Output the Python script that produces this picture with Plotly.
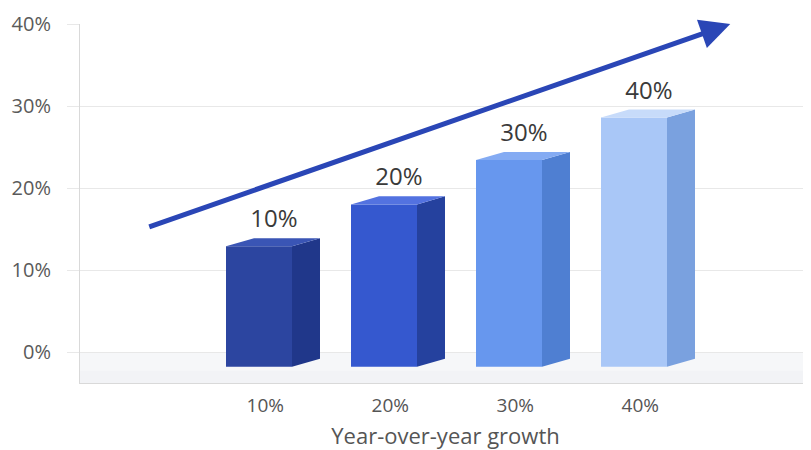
import plotly.graph_objects as go

# ---- data ----
categories = ["10%", "20%", "30%", "40%"]
bar_values = [12.9, 18.0, 23.4, 28.6]      # bar heights (in % units, as drawn)
label_texts = ["10%", "20%", "30%", "40%"]
y_ticks = [0, 10, 20, 30, 40]
arrow_start = [-0.89, 15.2]
arrow_end = [3.77, 40.0]

front_colors = ["#2c45a0", "#3558cf", "#6797ee", "#a9c7f7"]
side_colors = ["#20378a", "#25419e", "#4f7fd2", "#7aa1df"]
top_colors = ["#3a55b5", "#5372e0", "#84abf3", "#c7dbfa"]

BASE = -1.8
BAR_W = 0.528
DX = 0.224   # depth offset in x units
DY = 0.98    # depth offset in y units

xs = list(range(len(categories)))

fig = go.Figure()

# front faces
fig.add_trace(go.Bar(
    x=xs, y=[v - BASE for v in bar_values], base=BASE, width=BAR_W,
    marker=dict(color=front_colors, line=dict(width=0)),
    hoverinfo="skip", showlegend=False,
))

# side and top faces
for i, v in enumerate(bar_values):
    x0 = i - BAR_W / 2
    x1 = i + BAR_W / 2
    fig.add_trace(go.Scatter(
        x=[x1, x1 + DX, x1 + DX, x1, x1],
        y=[BASE, BASE + DY, v + DY, v, BASE],
        fill="toself", fillcolor=side_colors[i], mode="lines",
        line=dict(width=0, color=side_colors[i]),
        hoverinfo="skip", showlegend=False,
    ))
    fig.add_trace(go.Scatter(
        x=[x0, x0 + DX, x1 + DX, x1, x0],
        y=[v, v + DY, v + DY, v, v],
        fill="toself", fillcolor=top_colors[i], mode="lines",
        line=dict(width=0, color=top_colors[i]),
        hoverinfo="skip", showlegend=False,
    ))

# value labels
fig.add_trace(go.Scatter(
    x=[i + 0.12 for i in xs], y=[v + DY + 0.6 for v in bar_values],
    mode="text", text=label_texts, textposition="top center",
    textfont=dict(size=24, color="#3a3a3a", family="Open Sans"),
    hoverinfo="skip", showlegend=False,
))

# floor band
fig.add_shape(type="rect", xref="paper", yref="y", x0=0, x1=1, y0=-3.78, y1=0,
              fillcolor="#f6f7f9", line=dict(width=0), layer="below")
fig.add_shape(type="rect", xref="paper", yref="y", x0=0, x1=1, y0=-3.78, y1=-2.3,
              fillcolor="#f2f3f6", line=dict(width=0), layer="below")

# arrow
fig.add_annotation(
    x=arrow_end[0], y=arrow_end[1], ax=arrow_start[0], ay=arrow_start[1],
    xref="x", yref="y", axref="x", ayref="y", text="",
    showarrow=True, arrowhead=2, arrowwidth=5, arrowsize=1.2,
    arrowcolor="#2a46b6", standoff=0,
)

# page body has an 8px margin: size the figure so the plot lands where the reference's does
fig.update_layout(
    width=803, height=442,
    margin=dict(l=72, r=0, t=16, b=67),
    paper_bgcolor="white", plot_bgcolor="white",
    font=dict(family="Open Sans", color="#555555"),
    xaxis=dict(
        range=[-1.432, 4.416], tickmode="array",
        tickvals=[i + 0.05 for i in xs], ticktext=categories,
        tickfont=dict(size=19, color="#555555"),
        showgrid=False, zeroline=False, showline=True, linecolor="#d9d9d9",
        ticks="", ticklabelstandoff=5, automargin=False,
        title=dict(text="Year-over-year growth",
                   font=dict(size=22, color="#555555"), standoff=24),
    ),
    yaxis=dict(
        range=[-3.78, 40], tickmode="array", tickvals=y_ticks,
        ticktext=[f"{t}%" for t in y_ticks],
        tickfont=dict(size=20, color="#5a5a5a"),
        showgrid=True, gridcolor="#e8e8e8", zeroline=False,
        showline=True, linecolor="#d9d9d9",
        ticks="outside", ticklen=12, tickcolor="#e8e8e8",
        ticklabelstandoff=12, automargin=False,
    ),
)

fig.write_html("out.html")
